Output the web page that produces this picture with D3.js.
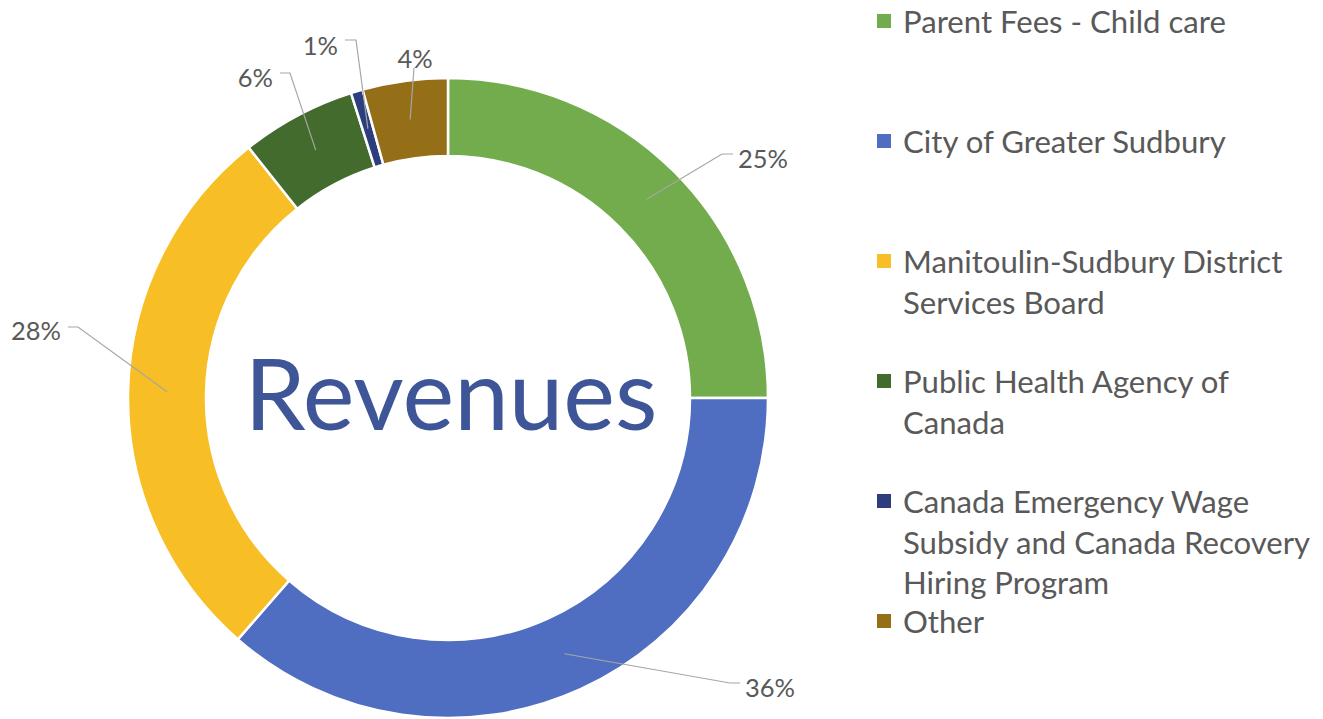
<!DOCTYPE html>
<html><head><meta charset="utf-8">
<script src="https://cdn.jsdelivr.net/npm/d3@7"></script>
<style>html,body{margin:0;padding:0;background:#fff;}svg{display:block;}</style>
</head><body>
<svg id="chart" width="1323" height="719"></svg>
<script>
// ---- data ----
const categories = ["Parent Fees - Child care", "City of Greater Sudbury", "Manitoulin-Sudbury District Services Board", "Public Health Agency of Canada", "Canada Emergency Wage Subsidy and Canada Recovery Hiring Program", "Other"];
const legendLines = [["Parent Fees - Child care"], ["City of Greater Sudbury"], ["Manitoulin-Sudbury District", "Services Board"], ["Public Health Agency of", "Canada"], ["Canada Emergency Wage", "Subsidy and Canada Recovery", "Hiring Program"], ["Other"]];
const values = [25.0, 36.4, 27.9, 5.8, 0.6, 4.3];
const colors = ["#72AC4D", "#4F6EC2", "#F7BF25", "#436B2E", "#2C3E7E", "#946F17"];
const title = "Revenues";

// ---- layout (positions only) ----
const cx = 448, cy = 398, rOuter = 320, rInner = 242;
const labelPos = [
  {x: 738, y: 158, anchor: "start", elbow: [[722,154],[733,154]]},
  {x: 745, y: 687, anchor: "start", elbow: [[730,683],[740,683]]},
  {x: 61,  y: 330, anchor: "end",   elbow: [[78,327],[68,327]]},
  {x: 273, y: 77,  anchor: "end",   elbow: [[290,73],[280,73]]},
  {x: 338, y: 45,  anchor: "end",   elbow: [[356,40],[345,40]]},
  {x: 415, y: 58,  anchor: "middle",elbow: [[414,68]]}
];

const svg = d3.select("#chart");
const FONT = "Lato, 'Open Sans', sans-serif";

function fitSize(text, targetW, family, weight) {
  const t = svg.append("text").attr("font-family", family).attr("font-size", 100).attr("font-weight", weight||400).text(text);
  const w = t.node().getComputedTextLength();
  t.remove();
  return 100 * targetW / w;
}

const total = d3.sum(values);
const pie = d3.pie().sort(null).value(d => d).startAngle(0).endAngle(2*Math.PI);
const arcs = pie(values);
const arc = d3.arc().innerRadius(rInner).outerRadius(rOuter);

const g = svg.append("g").attr("transform", `translate(${cx},${cy})`);
g.selectAll("path.slice").data(arcs).join("path")
  .attr("class", "slice")
  .attr("d", arc)
  .attr("fill", (d,i) => colors[i])
  .attr("stroke", "#fff").attr("stroke-width", 2.5).attr("stroke-linejoin", "miter");

// leader lines
const fmt = d3.format(".0%");
arcs.forEach((d,i) => {
  const c = arc.centroid(d);
  const pts = [[c[0]+cx, c[1]+cy]].concat(labelPos[i].elbow);
  svg.append("path")
    .attr("d", d3.line()(pts))
    .attr("fill", "none").attr("stroke", "#A6A6A6").attr("stroke-width", 1.2);
});

const labelSize = fitSize("25%", 50, FONT);
arcs.forEach((d,i) => {
  svg.append("text")
    .attr("x", labelPos[i].x).attr("y", labelPos[i].y)
    .attr("text-anchor", labelPos[i].anchor)
    .attr("dominant-baseline", "central")
    .attr("font-family", FONT).attr("font-size", labelSize)
    .attr("fill", "#595959")
    .text(fmt(values[i]/total));
});

// title
const titleSize = fitSize(title, 413, FONT);
svg.append("text")
  .attr("x", 451).attr("y", 430)
  .attr("text-anchor", "middle")
  .attr("font-family", FONT).attr("font-size", titleSize)
  .attr("fill", "#3E5597")
  .text(title);

// legend
const legSize = fitSize("Parent Fees - Child care", 323, FONT);
const leg = svg.append("g");
legendLines.forEach((lines, i) => {
  const y0 = 21 + i*120;
  leg.append("rect").attr("x", 877).attr("y", y0-7).attr("width", 14).attr("height", 14).attr("fill", colors[i]);
  lines.forEach((ln, j) => {
    leg.append("text")
      .attr("x", 903).attr("y", y0 + j*40.5)
      .attr("dominant-baseline", "central")
      .attr("font-family", FONT).attr("font-size", legSize)
      .attr("fill", "#595959")
      .text(ln);
  });
});
</script>
</body></html>
